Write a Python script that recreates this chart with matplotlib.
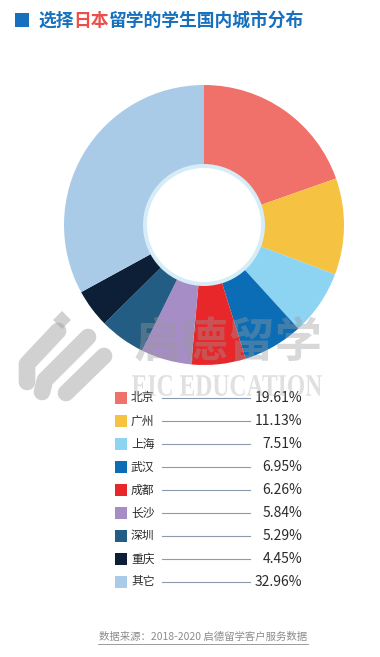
import matplotlib
matplotlib.use("Agg")
import matplotlib.pyplot as plt
from matplotlib.patches import Circle, Rectangle, PathPatch, Polygon
from matplotlib.textpath import TextPath
from matplotlib.font_manager import FontProperties
from matplotlib.transforms import Affine2D

plt.rcParams['font.family'] = ['Noto Sans CJK SC', 'DejaVu Sans']

cities = ['北京', '广州', '上海', '武汉', '成都', '长沙', '深圳', '重庆', '其它']
shares = [19.61, 11.13, 7.51, 6.95, 6.26, 5.84, 5.29, 4.45, 32.96]
labels = ['19.61%', '11.13%', '7.51%', '6.95%', '6.26%', '5.84%', '5.29%', '4.45%', '32.96%']
colors = ['#f0706a', '#f5c242', '#8dd4f2', '#0b6db6', '#e8272b',
          '#a68dc6', '#245d83', '#0d1f37', '#a9cbe8']
title_parts = ['选择', '日本', '留学的学生国内城市分布']
source = '数据来源：2018-2020 启德留学客户服务数据'

W, H = 380, 657
fig = plt.figure(figsize=(W / 100, H / 100), dpi=100)
fig.patch.set_facecolor('white')

# pie axes (pixel box: centre 204,225 radius 140)
cx, cy, R = 204, 225, 140
pax = fig.add_axes([(cx - R) / W, (H - cy - R) / H, 2 * R / W, 2 * R / H])
pax.pie(shares, colors=colors, startangle=90, counterclock=False,
        wedgeprops=dict(width=1 - 60 / R, linewidth=0), radius=1)
pax.add_patch(Circle((0, 0), 61 / R, facecolor='#d6edf8', edgecolor='none', zorder=5))
pax.add_patch(Circle((0, 0), 57 / R, facecolor='white', edgecolor='none', zorder=6))
pax.set_xlim(-1, 1)
pax.set_ylim(-1, 1)
pax.set_aspect('equal')
pax.axis('off')

# overlay axes in pixel coordinates
ax = fig.add_axes([0, 0, 1, 1], facecolor='none')
ax.set_xlim(0, W)
ax.set_ylim(H, 0)
ax.axis('off')

# title
ax.add_patch(Rectangle((15, 13), 14, 14, facecolor='#1670bd', edgecolor='none'))
fs_t = 12.8
em = fs_t * 100 / 72
x = 38
tcols = ['#1670bd', '#ec4f49', '#1670bd']
for part, c in zip(title_parts, tcols):
    ax.text(x, 20.5, part, fontsize=fs_t, fontweight='bold', color=c,
            ha='left', va='center')
    x += em * len(part)

# watermark
wm = '#9a9a9a'
bars = [[(58, 331), (27, 364), (27, 382)],
        [(88, 337), (45, 380), (42, 392)],
        [(104, 356), (66, 393)]]
for pts in bars:
    xs, ys = zip(*pts)
    ax.plot(xs, ys, color=wm, lw=12, alpha=0.45, solid_capstyle='round',
            solid_joinstyle='round', zorder=10)
ax.add_patch(Polygon([(62, 311), (71, 320), (62, 329), (53, 320)], closed=True,
                     facecolor=wm, edgecolor='none', alpha=0.45, zorder=10))
ax.text(228, 343, '启德留学', fontsize=34, color=wm, alpha=0.38, fontweight='bold',
        ha='center', va='center', zorder=10)
tp = TextPath((0, 0), 'EIC EDUCATION', size=20,
              prop=FontProperties(family='Liberation Serif', weight='bold'))
bb = tp.get_extents()
sx = 190 / bb.width
sy = 21 / bb.height
trans = Affine2D().translate(-bb.x0, -bb.y0).scale(sx, -sy).translate(132, 396) + ax.transData
ax.add_patch(PathPatch(tp, facecolor=wm, edgecolor='none', alpha=0.3,
                       transform=trans, zorder=10))

# legend
y0, dy = 398, 23
for i, (city, lab, col) in enumerate(zip(cities, labels, colors)):
    y = y0 + i * dy
    ax.add_patch(Rectangle((115, y - 6), 12, 12, facecolor=col, edgecolor='none'))
    ax.text(131, y, city, fontsize=8.5, color='#2b2b2b', ha='left', va='center')
    ax.plot([162, 250], [y, y], color='#8a9bb0', lw=0.8)
    ax.text(302, y, lab, fontsize=10, color='#2b2b2b', ha='right', va='center')

# source
ax.text(203, 637, source, fontsize=7.5, color='#8c8c8c', ha='center', va='center')
ax.plot([98, 308], [644, 644], color='#8c8c8c', lw=0.6)

fig.savefig('out.png', dpi=100, facecolor='white')
